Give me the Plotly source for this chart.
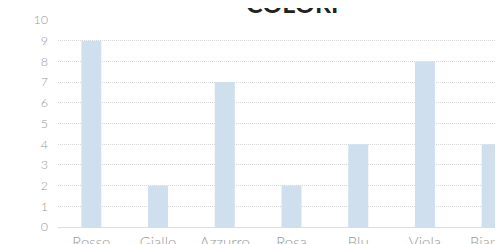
import plotly.graph_objects as go

categories = ["Rosso", "Giallo", "Azzurro", "Rosa", "Blu", "Viola", "Bianco"]
values = [9, 2, 7, 2, 4, 8, 4]
y_ticks = list(range(0, 11))
title_text = "COLORI"

fig = go.Figure(go.Bar(x=categories, y=values, marker=dict(color="#cfdfee", line=dict(width=0))))

fig.update_layout(
    width=532, height=262,
    margin=dict(l=50, r=15, t=12, b=43),
    paper_bgcolor="white", plot_bgcolor="white",
    bargap=0.7,
    showlegend=False,
    font=dict(family="Lato", color="#9a9a9a", size=12, weight=300),
    annotations=[dict(text="<b>" + title_text + "</b>", x=0.5, y=1, xref="paper", yref="paper",
                      xanchor="center", yanchor="bottom", yshift=0, showarrow=False,
                      font=dict(family="Lato", size=25, color="#222222"))],
)
fig.update_yaxes(range=[0, 10], tickvals=y_ticks, showgrid=True, gridcolor="#d8d8d8", griddash="1px,1px",
                 gridwidth=1, zeroline=False, showline=False, ticks="", ticklabelstandoff=9,
                 tickfont=dict(size=12.5, color="#999999"), automargin=False)
fig.update_xaxes(showline=True, linecolor="#dddddd", linewidth=1, ticks="", showgrid=False,
                 tickfont=dict(size=15, color="#999999"), ticklabelstandoff=2, automargin=False)

fig.write_html("out.html")
